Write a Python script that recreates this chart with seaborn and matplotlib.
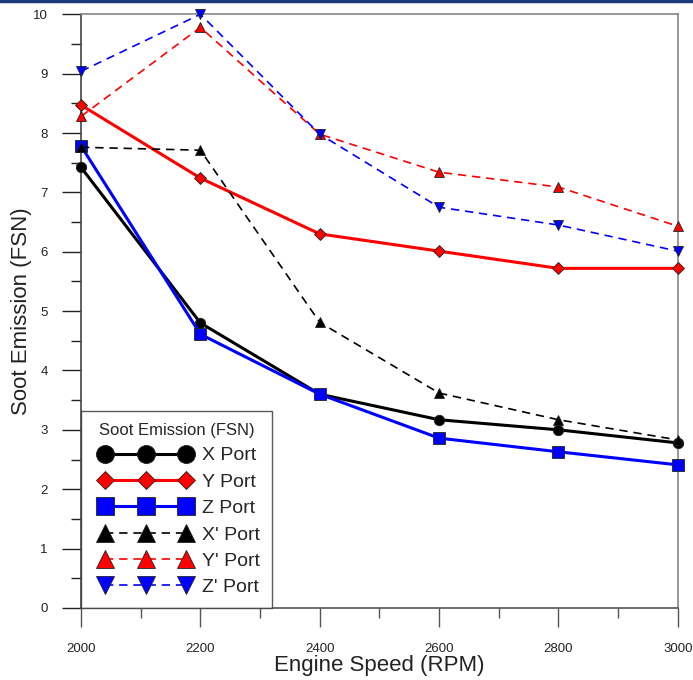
import numpy as np
import pandas as pd
import seaborn as sns
import matplotlib.pyplot as plt
from matplotlib.lines import Line2D
from matplotlib.legend_handler import HandlerLine2D
from matplotlib.ticker import MultipleLocator

rpm = [2000, 2200, 2400, 2600, 2800, 3000]

x_port = [7.42, 4.80, 3.60, 3.17, 3.00, 2.78]
y_port = [8.47, 7.24, 6.30, 6.01, 5.72, 5.72]
z_port = [7.78, 4.61, 3.60, 2.86, 2.63, 2.41]
x_prime = [7.76, 7.71, 4.81, 3.62, 3.17, 2.83]
y_prime = [8.28, 9.78, 7.98, 7.34, 7.09, 6.43]
z_prime = [9.04, 10.0, 7.98, 6.75, 6.45, 6.01]

labels = ["X Port", "Y Port", "Z Port", "X' Port", "Y' Port", "Z' Port"]

sns.set_theme(style="ticks")
plt.rcParams['font.family'] = ['Liberation Sans', 'DejaVu Sans']

fig = plt.figure(figsize=(6.93, 6.80), dpi=100)
ax = fig.add_axes([0.117, 0.106, 0.861, 0.873])

dash = (0, (5, 3.5))
# values, colour, marker, line style, line width, marker size (plot / legend)
series = [
    (x_port, "black", "o", "-", 2.2, 7.5, 13),
    (y_port, "red", "D", "-", 2.2, 5.8, 9.2),
    (z_port, "blue", "s", "-", 2.2, 8, 13),
    (x_prime, "black", "^", dash, 1.2, 6.5, 12.5),
    (y_prime, "red", "^", dash, 1.2, 6.5, 12.5),
    (z_prime, "blue", "v", dash, 1.2, 6.5, 12.5),
]

for (vals, col, mk, ls, lw, ms, lms), lab in zip(series, labels):
    df = pd.DataFrame({"rpm": rpm, "fsn": vals})
    sns.lineplot(data=df, x="rpm", y="fsn", ax=ax, color=col, marker=mk,
                 linestyle=ls, linewidth=lw, markersize=ms,
                 markeredgecolor="#222222", markeredgewidth=0.6,
                 label=lab, clip_on=False, zorder=3)

ax.set_xlim(2000, 3000)
ax.set_ylim(0, 10)
ax.xaxis.set_major_locator(MultipleLocator(200))
ax.xaxis.set_minor_locator(MultipleLocator(100))
ax.yaxis.set_major_locator(MultipleLocator(1))
ax.yaxis.set_minor_locator(MultipleLocator(0.5))
ax.tick_params(axis='x', which='major', length=14, width=1, pad=11, labelsize=9.5,
               color="#555555", labelcolor="#222222")
ax.tick_params(axis='x', which='minor', length=7, width=1, color="#555555")
ax.tick_params(axis='y', which='major', length=14, width=1, pad=10, labelsize=9.5,
               color="#222222", labelcolor="#222222")
ax.tick_params(axis='y', which='minor', length=7, width=1, color="#222222")

for s in ['top', 'right']:
    ax.spines[s].set_color("#888888")
    ax.spines[s].set_linewidth(1.2)
ax.spines['left'].set_color("#444444")
ax.spines['bottom'].set_color("#555555")
ax.spines['left'].set_linewidth(1.2)
ax.spines['bottom'].set_linewidth(1.2)

ax.set_xlabel("Engine Speed (RPM)", fontsize=16, color="#222222")
ax.set_ylabel("Soot Emission (FSN)", fontsize=16, color="#222222")
ax.xaxis.set_label_coords(0.5, -0.079)
ax.yaxis.set_label_coords(-0.082, 0.5)

leg = ax.legend(title="Soot Emission (FSN)", loc="lower left",
                handler_map={Line2D: HandlerLine2D(marker_pad=0.62, numpoints=3)},
                handlelength=5.44, fontsize=14, title_fontsize=12,
                frameon=True, fancybox=False, borderaxespad=0,
                borderpad=0.6, labelspacing=0.45, handletextpad=0.2)
leg.get_frame().set_edgecolor("#333333")
leg.get_frame().set_linewidth(1.0)
for h, sr in zip(leg.legend_handles, series):
    h.set_markersize(sr[6])

fig.add_artist(plt.Line2D([0, 1], [0.998, 0.998], color="#1f3a78", linewidth=2.5,
                          transform=fig.transFigure))

fig.savefig("out.png", dpi=100)
